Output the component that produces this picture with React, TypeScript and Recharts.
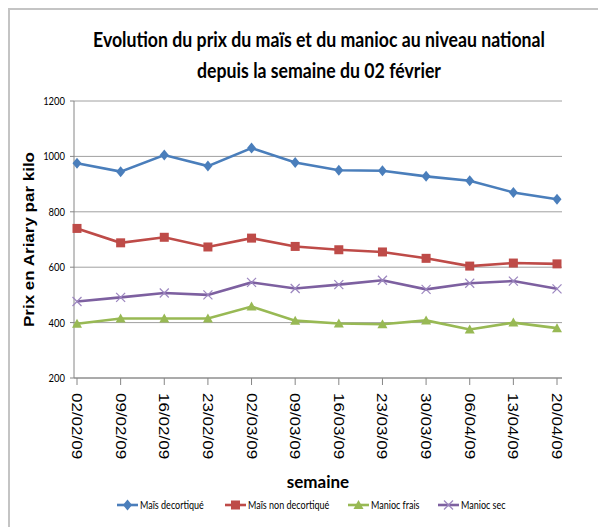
import { LineChart, Line, XAxis, YAxis, CartesianGrid } from 'recharts'

const weeks = [
  '02/02/09', '09/02/09', '16/02/09', '23/02/09', '02/03/09', '09/03/09',
  '16/03/09', '23/03/09', '30/03/09', '06/04/09', '13/04/09', '20/04/09',
]
const maisDecortique = [975, 945, 1005, 965, 1030, 978, 950, 948, 928, 912, 870, 845]
const maisNonDecortique = [740, 688, 708, 673, 705, 675, 663, 655, 632, 604, 615, 612]
const maniocFrais = [396, 415, 415, 415, 458, 407, 397, 394, 408, 375, 400, 380]
const maniocSec = [476, 491, 507, 500, 545, 523, 537, 553, 520, 542, 550, 522]
const yTicks = [200, 400, 600, 800, 1000, 1200]

const titleLines = ['Evolution du prix du maïs et du manioc au niveau national', 'depuis la semaine du 02 février']

const series = [
  { key: 'maisDecortique', name: 'Maïs decortiqué', color: '#4a7ebb', marker: 'diamond' },
  { key: 'maisNonDecortique', name: 'Maïs non decortiqué', color: '#be4b48', marker: 'square' },
  { key: 'maniocFrais', name: 'Manioc frais', color: '#98b954', marker: 'triangle' },
  { key: 'maniocSec', name: 'Manioc sec', color: '#7d60a0', marker: 'cross' },
]

const data = weeks.map((semaine, i) => ({
  semaine,
  maisDecortique: maisDecortique[i],
  maisNonDecortique: maisNonDecortique[i],
  maniocFrais: maniocFrais[i],
  maniocSec: maniocSec[i],
}))

const W = 598
const H = 519
// the reference is squeezed horizontally, so text is narrowed the same way
const squeeze = 0.82

function Marker({ type, cx, cy, color }: { type: string; cx: number; cy: number; color: string }) {
  if (type === 'diamond') {
    return <path d={`M${cx},${cy - 5.5}L${cx + 4.5},${cy}L${cx},${cy + 5.5}L${cx - 4.5},${cy}Z`} fill={color} />
  }
  if (type === 'square') {
    return <rect x={cx - 4.5} y={cy - 4.5} width={9} height={9} fill={color} />
  }
  if (type === 'triangle') {
    return <path d={`M${cx},${cy - 5}L${cx + 5},${cy + 4}L${cx - 5},${cy + 4}Z`} fill={color} />
  }
  return (
    <g stroke="#9c86bf" strokeWidth={1.2}>
      <line x1={cx - 4.5} y1={cy - 4.5} x2={cx + 4.5} y2={cy + 4.5} />
      <line x1={cx - 4.5} y1={cy + 4.5} x2={cx + 4.5} y2={cy - 4.5} />
    </g>
  )
}

const WeekTick = ({ x, y, payload }: any) => (
  <g transform={`translate(${x},${y})`}>
    <text
      transform={`rotate(90) scale(1,${squeeze})`}
      x={8}
      y={0}
      dy="0.36em"
      textAnchor="start"
      fontFamily="'Liberation Sans', Arial, sans-serif"
      fontSize={17}
      fill="#000"
    >
      {payload.value}
    </text>
  </g>
)

const PriceTick = ({ x, y, payload }: any) => (
  <g transform={`translate(${x},${y}) scale(${squeeze},1)`}>
    <text x={0} y={0} dy="0.35em" textAnchor="end" fontFamily="Lato, sans-serif" fontSize={11.5} fill="#000">
      {payload.value}
    </text>
  </g>
)

const YLabel = ({ viewBox }: any) => {
  const cy = viewBox.y + viewBox.height / 2
  return (
    <g transform={`translate(21,${cy})`}>
      <text
        transform={`rotate(-90) scale(1,${squeeze})`}
        x={0}
        y={0}
        dy="0.36em"
        textAnchor="middle"
        fontFamily="'Liberation Sans', Arial, sans-serif"
        fontWeight="bold"
        fontSize={17}
        fill="#000"
      >
        Prix en Ariary par kilo
      </text>
    </g>
  )
}

const legendX = [109, 217, 340, 430]

export default function App() {
  return (
    <div style={{ position: 'relative', width: W, height: H }}>
      <div
        style={{
          position: 'absolute',
          left: 0,
          top: 0,
          width: W,
          height: H,
          boxSizing: 'border-box',
          borderTop: '2px solid #c4c4c4',
          borderLeft: '2px solid #c4c4c4',
        }}
      />
      <LineChart width={W} height={H} data={data} margin={{ top: 93, right: 44, bottom: 37, left: 0 }}>
        <CartesianGrid vertical={false} stroke="#a0a0a0" strokeWidth={1} />
        <XAxis
          dataKey="semaine"
          interval={0}
          height={112}
          tickSize={7}
          tickMargin={0}
          padding={{ left: 3, right: 5 }}
          stroke="#868686"
          tick={<WeekTick />}
          label={{
            value: 'semaine',
            position: 'insideBottom',
            offset: 2,
            style: { fontFamily: 'Lato, sans-serif', fontWeight: 'bold', fontSize: 17, fill: '#000' },
          }}
        />
        <YAxis
          width={66}
          domain={[200, 1200]}
          ticks={yTicks}
          interval={0}
          tickSize={4}
          tickMargin={5}
          stroke="#868686"
          tick={<PriceTick />}
          label={<YLabel />}
        />
        {series.map((s) => (
          <Line
            key={s.key}
            type="linear"
            dataKey={s.key}
            name={s.name}
            stroke={s.color}
            strokeWidth={2.6}
            isAnimationActive={false}
            dot={(p: any) => <Marker key={`${s.key}-${p.index}`} type={s.marker} cx={p.cx} cy={p.cy} color={s.color} />}
            activeDot={false}
          />
        ))}
      </LineChart>
      <svg width={W} height={H} style={{ position: 'absolute', left: 0, top: 0, pointerEvents: 'none' }}>
        {titleLines.map((t, i) => (
          <g key={t} transform={`translate(311,${39 + i * 31}) scale(0.843,1)`}>
            <text x={0} y={0} textAnchor="middle" fontFamily="Lato, sans-serif" fontWeight="bold" fontSize={21} fill="#000">
              {t}
            </text>
          </g>
        ))}
        {series.map((s, i) => (
          <g key={s.key}>
            <line x1={legendX[i]} y1={497} x2={legendX[i] + 21} y2={497} stroke={s.color} strokeWidth={2.6} />
            <Marker type={s.marker} cx={legendX[i] + 10.5} cy={497} color={s.color} />
            <g transform={`translate(${legendX[i] + 23},501) scale(${squeeze},1)`}>
              <text x={0} y={0} fontFamily="Lato, sans-serif" fontSize={11} fill="#000">
                {s.name}
              </text>
            </g>
          </g>
        ))}
      </svg>
    </div>
  )
}
